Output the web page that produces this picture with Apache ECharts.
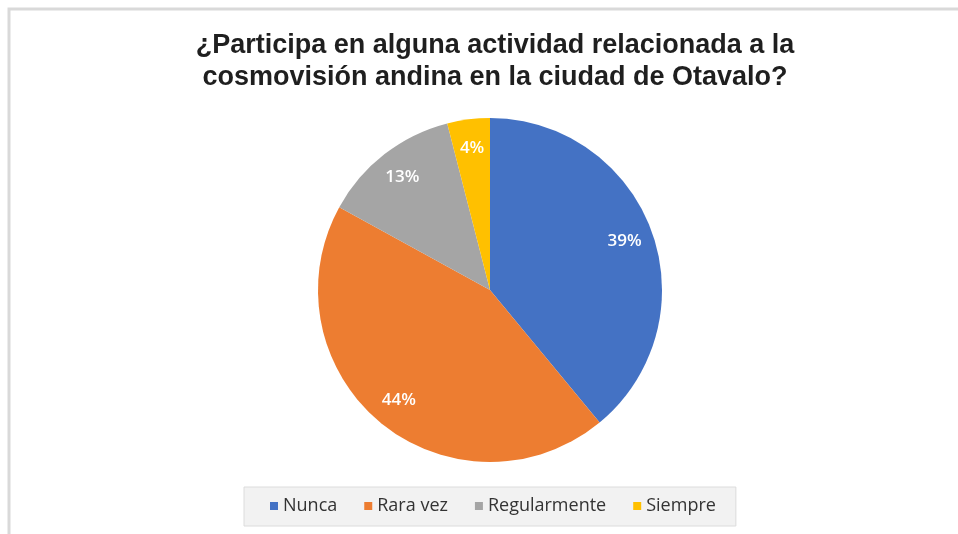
<!DOCTYPE html>
<html>
<head>
<meta charset="utf-8">
<script src="https://cdn.jsdelivr.net/npm/echarts@6/dist/echarts.min.js"></script>
<style>
  html, body { margin: 0; padding: 0; background: #fff; }
  #main { width: 958px; height: 534px; }
</style>
</head>
<body>
<div id="main"></div>
<script>
// datos de la encuesta
var categorias = ['Nunca', 'Rara vez', 'Regularmente', 'Siempre'];
var porcentajes = [39, 44, 13, 4];
var colores = ['#4472C4', '#ED7D31', '#A5A5A5', '#FFC000'];

var datos = categorias.map(function (c, i) {
    return { name: c, value: porcentajes[i], itemStyle: { color: colores[i] } };
});
var datosEtiqueta = categorias.map(function (c, i) {
    return { name: c, value: porcentajes[i] };
});

var chart = echarts.init(document.getElementById('main'));
chart.setOption({
    animation: false,
    color: colores,
    title: {
        text: '¿Participa en alguna actividad relacionada a la\ncosmovisión andina en la ciudad de Otavalo?',
        left: 490,
        textAlign: 'center',
        top: 25,
        textStyle: {
            fontFamily: 'Liberation Sans',
            fontWeight: 'bold',
            fontSize: 27,
            lineHeight: 32,
            color: '#1f1f1f'
        }
    },
    legend: {
        data: categorias,
        left: 244,
        top: 487,
        icon: 'rect',
        itemWidth: 8,
        itemHeight: 8,
        itemGap: 27,
        padding: [10, 20, 11, 26],
        backgroundColor: '#f2f2f2',
        borderColor: '#dcdcdc',
        borderWidth: 1,
        textStyle: {
            fontFamily: 'Open Sans',
            fontSize: 18,
            color: '#333'
        }
    },
    graphic: [{
        type: 'rect',
        shape: { x: 9, y: 9, width: 1200, height: 1200 },
        style: { fill: 'none', stroke: '#d9d9d9', lineWidth: 3 },
        silent: true
    }],
    series: [{
        type: 'pie',
        center: [490, 290],
        radius: [0, 172],
        startAngle: 90,
        clockwise: true,
        label: { show: false },
        labelLine: { show: false },
        itemStyle: { borderWidth: 0 },
        data: datos
    }, {
        type: 'pie',
        center: [490, 290],
        radius: [108, 172],
        startAngle: 90,
        clockwise: true,
        silent: true,
        itemStyle: { color: 'rgba(0,0,0,0)' },
        label: {
            show: true,
            position: 'inside',
            formatter: '{c}%',
            color: '#fff',
            fontFamily: 'Open Sans',
            fontWeight: 600,
            fontSize: 17
        },
        labelLine: { show: false },
        data: datosEtiqueta
    }]
});
</script>
</body>
</html>
